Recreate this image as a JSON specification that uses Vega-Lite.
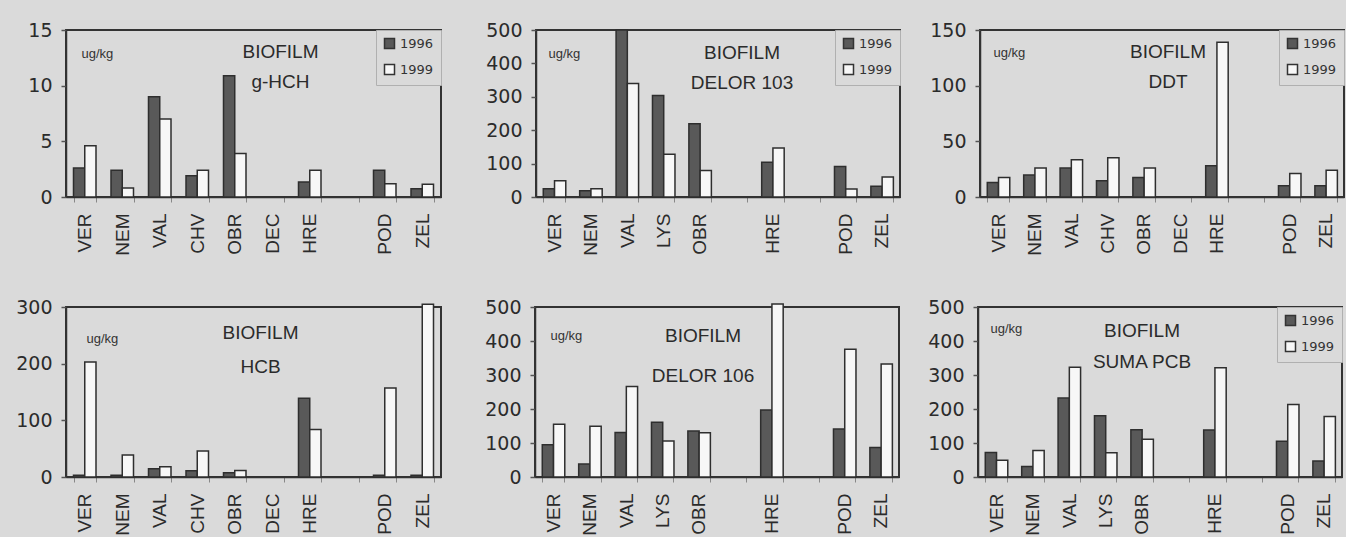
{
  "$schema": "https://vega.github.io/schema/vega-lite/v6.json",
  "padding": {"left": 14, "top": 20, "right": 0, "bottom": 0},
  "data": {"values": [
    {"p": "g-HCH", "site": "VER", "year": "1996", "v": 2.6},
    {"p": "g-HCH", "site": "VER", "year": "1999", "v": 4.6},
    {"p": "g-HCH", "site": "NEM", "year": "1996", "v": 2.4},
    {"p": "g-HCH", "site": "NEM", "year": "1999", "v": 0.8},
    {"p": "g-HCH", "site": "VAL", "year": "1996", "v": 9.0},
    {"p": "g-HCH", "site": "VAL", "year": "1999", "v": 7.0},
    {"p": "g-HCH", "site": "CHV", "year": "1996", "v": 1.9},
    {"p": "g-HCH", "site": "CHV", "year": "1999", "v": 2.4},
    {"p": "g-HCH", "site": "OBR", "year": "1996", "v": 10.9},
    {"p": "g-HCH", "site": "OBR", "year": "1999", "v": 3.9},
    {"p": "g-HCH", "site": "HRE", "year": "1996", "v": 1.35},
    {"p": "g-HCH", "site": "HRE", "year": "1999", "v": 2.4},
    {"p": "g-HCH", "site": "POD", "year": "1996", "v": 2.4},
    {"p": "g-HCH", "site": "POD", "year": "1999", "v": 1.2},
    {"p": "g-HCH", "site": "ZEL", "year": "1996", "v": 0.75},
    {"p": "g-HCH", "site": "ZEL", "year": "1999", "v": 1.15},
    {"p": "DELOR 103", "site": "VER", "year": "1996", "v": 25},
    {"p": "DELOR 103", "site": "VER", "year": "1999", "v": 49},
    {"p": "DELOR 103", "site": "NEM", "year": "1996", "v": 19},
    {"p": "DELOR 103", "site": "NEM", "year": "1999", "v": 25},
    {"p": "DELOR 103", "site": "VAL", "year": "1996", "v": 500},
    {"p": "DELOR 103", "site": "VAL", "year": "1999", "v": 340},
    {"p": "DELOR 103", "site": "LYS", "year": "1996", "v": 304},
    {"p": "DELOR 103", "site": "LYS", "year": "1999", "v": 128},
    {"p": "DELOR 103", "site": "OBR", "year": "1996", "v": 219},
    {"p": "DELOR 103", "site": "OBR", "year": "1999", "v": 79},
    {"p": "DELOR 103", "site": "HRE", "year": "1996", "v": 104},
    {"p": "DELOR 103", "site": "HRE", "year": "1999", "v": 147},
    {"p": "DELOR 103", "site": "POD", "year": "1996", "v": 91},
    {"p": "DELOR 103", "site": "POD", "year": "1999", "v": 24},
    {"p": "DELOR 103", "site": "ZEL", "year": "1996", "v": 32},
    {"p": "DELOR 103", "site": "ZEL", "year": "1999", "v": 60},
    {"p": "DDT", "site": "VER", "year": "1996", "v": 13},
    {"p": "DDT", "site": "VER", "year": "1999", "v": 17.6},
    {"p": "DDT", "site": "NEM", "year": "1996", "v": 19.7},
    {"p": "DDT", "site": "NEM", "year": "1999", "v": 26},
    {"p": "DDT", "site": "VAL", "year": "1996", "v": 26},
    {"p": "DDT", "site": "VAL", "year": "1999", "v": 33.4},
    {"p": "DDT", "site": "CHV", "year": "1996", "v": 14.6},
    {"p": "DDT", "site": "CHV", "year": "1999", "v": 35.2},
    {"p": "DDT", "site": "OBR", "year": "1996", "v": 17.6},
    {"p": "DDT", "site": "OBR", "year": "1999", "v": 26},
    {"p": "DDT", "site": "HRE", "year": "1996", "v": 28},
    {"p": "DDT", "site": "HRE", "year": "1999", "v": 139},
    {"p": "DDT", "site": "POD", "year": "1996", "v": 10},
    {"p": "DDT", "site": "POD", "year": "1999", "v": 21},
    {"p": "DDT", "site": "ZEL", "year": "1996", "v": 10},
    {"p": "DDT", "site": "ZEL", "year": "1999", "v": 24},
    {"p": "HCB", "site": "VER", "year": "1996", "v": 3},
    {"p": "HCB", "site": "VER", "year": "1999", "v": 203},
    {"p": "HCB", "site": "NEM", "year": "1996", "v": 3},
    {"p": "HCB", "site": "NEM", "year": "1999", "v": 39},
    {"p": "HCB", "site": "VAL", "year": "1996", "v": 14.5},
    {"p": "HCB", "site": "VAL", "year": "1999", "v": 18},
    {"p": "HCB", "site": "CHV", "year": "1996", "v": 11},
    {"p": "HCB", "site": "CHV", "year": "1999", "v": 46},
    {"p": "HCB", "site": "OBR", "year": "1996", "v": 7.5},
    {"p": "HCB", "site": "OBR", "year": "1999", "v": 11.6},
    {"p": "HCB", "site": "HRE", "year": "1996", "v": 139},
    {"p": "HCB", "site": "HRE", "year": "1999", "v": 84},
    {"p": "HCB", "site": "POD", "year": "1996", "v": 3},
    {"p": "HCB", "site": "POD", "year": "1999", "v": 157},
    {"p": "HCB", "site": "ZEL", "year": "1996", "v": 3},
    {"p": "HCB", "site": "ZEL", "year": "1999", "v": 305},
    {"p": "DELOR 106", "site": "VER", "year": "1996", "v": 95},
    {"p": "DELOR 106", "site": "VER", "year": "1999", "v": 155},
    {"p": "DELOR 106", "site": "NEM", "year": "1996", "v": 38},
    {"p": "DELOR 106", "site": "NEM", "year": "1999", "v": 149},
    {"p": "DELOR 106", "site": "VAL", "year": "1996", "v": 131},
    {"p": "DELOR 106", "site": "VAL", "year": "1999", "v": 266},
    {"p": "DELOR 106", "site": "LYS", "year": "1996", "v": 161},
    {"p": "DELOR 106", "site": "LYS", "year": "1999", "v": 106},
    {"p": "DELOR 106", "site": "OBR", "year": "1996", "v": 135},
    {"p": "DELOR 106", "site": "OBR", "year": "1999", "v": 130},
    {"p": "DELOR 106", "site": "HRE", "year": "1996", "v": 197},
    {"p": "DELOR 106", "site": "HRE", "year": "1999", "v": 509},
    {"p": "DELOR 106", "site": "POD", "year": "1996", "v": 141},
    {"p": "DELOR 106", "site": "POD", "year": "1999", "v": 376},
    {"p": "DELOR 106", "site": "ZEL", "year": "1996", "v": 87},
    {"p": "DELOR 106", "site": "ZEL", "year": "1999", "v": 332},
    {"p": "SUMA PCB", "site": "VER", "year": "1996", "v": 72},
    {"p": "SUMA PCB", "site": "VER", "year": "1999", "v": 49},
    {"p": "SUMA PCB", "site": "NEM", "year": "1996", "v": 31},
    {"p": "SUMA PCB", "site": "NEM", "year": "1999", "v": 78},
    {"p": "SUMA PCB", "site": "VAL", "year": "1996", "v": 232},
    {"p": "SUMA PCB", "site": "VAL", "year": "1999", "v": 323},
    {"p": "SUMA PCB", "site": "LYS", "year": "1996", "v": 180},
    {"p": "SUMA PCB", "site": "LYS", "year": "1999", "v": 71},
    {"p": "SUMA PCB", "site": "OBR", "year": "1996", "v": 139},
    {"p": "SUMA PCB", "site": "OBR", "year": "1999", "v": 111},
    {"p": "SUMA PCB", "site": "HRE", "year": "1996", "v": 138},
    {"p": "SUMA PCB", "site": "HRE", "year": "1999", "v": 321},
    {"p": "SUMA PCB", "site": "POD", "year": "1996", "v": 105},
    {"p": "SUMA PCB", "site": "POD", "year": "1999", "v": 213},
    {"p": "SUMA PCB", "site": "ZEL", "year": "1996", "v": 47},
    {"p": "SUMA PCB", "site": "ZEL", "year": "1999", "v": 178}
  ]},
  "spacing": 40,
  "resolve": {"scale": {"color": "independent"}, "legend": {"color": "independent"}},
  "vconcat": [
    {
      "spacing": 41,
      "resolve": {"scale": {"color": "independent"}, "legend": {"color": "independent"}},
      "hconcat": [
        {
          "width": 375, "height": 167,
          "transform": [{"filter": "datum.p == 'g-HCH'"}],
          "title": {"text": "BIOFILM", "subtitle": "g-HCH", "dx": 27, "dy": 75, "subtitlePadding": 11},
          "mark": "bar",
          "encoding": {
            "x": {"field": "site", "type": "nominal", "sort": null, "scale": {"domain": ["VER", "NEM", "VAL", "CHV", "OBR", "DEC", "HRE", " ", "POD", "ZEL"], "paddingInner": 0.4, "paddingOuter": 0.2}, "axis": {"title": null}},
            "xOffset": {"field": "year", "type": "nominal", "scale": {"paddingInner": 0, "paddingOuter": 0}},
            "y": {"field": "v", "type": "quantitative", "scale": {"domain": [0, 15], "nice": false}, "axis": {"values": [0, 5, 10, 15], "title": "ug/kg", "titleX": 15, "titleY": 27}},
            "color": {"field": "year", "type": "nominal", "scale": {"domain": ["1996", "1999"], "range": ["#595959", "#f7f7f7"]}, "legend": {"title": null}}
          }
        },
        {
          "spacing": 26,
          "resolve": {"scale": {"color": "independent"}, "legend": {"color": "independent"}},
          "hconcat": [
            {
              "width": 364, "height": 167,
              "transform": [{"filter": "datum.p == 'DELOR 103'"}],
              "title": {"text": "BIOFILM", "subtitle": "DELOR 103", "dx": 24, "dy": 76, "subtitlePadding": 11},
              "mark": "bar",
              "encoding": {
                "x": {"field": "site", "type": "nominal", "sort": null, "scale": {"domain": ["VER", "NEM", "VAL", "LYS", "OBR", " ", "HRE", "  ", "POD", "ZEL"], "paddingInner": 0.4, "paddingOuter": 0.2}, "axis": {"title": null}},
                "xOffset": {"field": "year", "type": "nominal", "scale": {"paddingInner": 0, "paddingOuter": 0}},
                "y": {"field": "v", "type": "quantitative", "scale": {"domain": [0, 500], "nice": false}, "axis": {"values": [0, 100, 200, 300, 400, 500], "title": "ug/kg", "titleX": 12, "titleY": 27}},
                "color": {"field": "year", "type": "nominal", "scale": {"domain": ["1996", "1999"], "range": ["#595959", "#f7f7f7"]}, "legend": {"title": null}}
              }
            },
            {
              "width": 364, "height": 167,
              "transform": [{"filter": "datum.p == 'DDT'"}],
              "title": {"text": "BIOFILM", "subtitle": "DDT", "dx": 6, "dy": 74.5, "subtitlePadding": 11},
              "mark": "bar",
              "encoding": {
                "x": {"field": "site", "type": "nominal", "sort": null, "scale": {"domain": ["VER", "NEM", "VAL", "CHV", "OBR", "DEC", "HRE", " ", "POD", "ZEL"], "paddingInner": 0.4, "paddingOuter": 0.2}, "axis": {"title": null}},
                "xOffset": {"field": "year", "type": "nominal", "scale": {"paddingInner": 0, "paddingOuter": 0}},
                "y": {"field": "v", "type": "quantitative", "scale": {"domain": [0, 150], "nice": false}, "axis": {"values": [0, 50, 100, 150], "title": "ug/kg", "titleX": 13, "titleY": 26}},
                "color": {"field": "year", "type": "nominal", "scale": {"domain": ["1996", "1999"], "range": ["#595959", "#f7f7f7"]}, "legend": {"title": null}}
              }
            }
          ]
        }
      ]
    },
    {
      "spacing": 41,
      "resolve": {"scale": {"color": "independent"}, "legend": {"color": "independent"}},
      "hconcat": [
        {
          "width": 375, "height": 170,
          "transform": [{"filter": "datum.p == 'HCB'"}],
          "title": {"text": "BIOFILM", "subtitle": "HCB", "dx": 7, "dy": 83, "subtitlePadding": 15},
          "mark": "bar",
          "encoding": {
            "x": {"field": "site", "type": "nominal", "sort": null, "scale": {"domain": ["VER", "NEM", "VAL", "CHV", "OBR", "DEC", "HRE", " ", "POD", "ZEL"], "paddingInner": 0.4, "paddingOuter": 0.2}, "axis": {"title": null}},
            "xOffset": {"field": "year", "type": "nominal", "scale": {"paddingInner": 0, "paddingOuter": 0}},
            "y": {"field": "v", "type": "quantitative", "scale": {"domain": [0, 300], "nice": false}, "axis": {"values": [0, 100, 200, 300], "title": "ug/kg", "titleX": 20, "titleY": 35}},
            "color": {"field": "year", "type": "nominal", "scale": {"domain": ["1996", "1999"], "range": ["#595959", "#f7f7f7"]}, "legend": null}
          }
        },
        {
          "spacing": 26,
          "resolve": {"scale": {"color": "independent"}, "legend": {"color": "independent"}},
          "hconcat": [
            {
              "width": 364, "height": 170,
              "transform": [{"filter": "datum.p == 'DELOR 106'"}],
              "title": {"text": "BIOFILM", "subtitle": "DELOR 106", "dx": -14, "dy": 92, "subtitlePadding": 21},
              "mark": "bar",
              "encoding": {
                "x": {"field": "site", "type": "nominal", "sort": null, "scale": {"domain": ["VER", "NEM", "VAL", "LYS", "OBR", " ", "HRE", "  ", "POD", "ZEL"], "paddingInner": 0.4, "paddingOuter": 0.2}, "axis": {"title": null}},
                "xOffset": {"field": "year", "type": "nominal", "scale": {"paddingInner": 0, "paddingOuter": 0}},
                "y": {"field": "v", "type": "quantitative", "scale": {"domain": [0, 500], "nice": false}, "axis": {"values": [0, 100, 200, 300, 400, 500], "title": "ug/kg", "titleX": 15, "titleY": 32}},
                "color": {"field": "year", "type": "nominal", "scale": {"domain": ["1996", "1999"], "range": ["#595959", "#f7f7f7"]}, "legend": null}
              }
            },
            {
              "width": 364, "height": 170,
              "transform": [{"filter": "datum.p == 'SUMA PCB'"}],
              "title": {"text": "BIOFILM", "subtitle": "SUMA PCB", "dx": -18, "dy": 78, "subtitlePadding": 12},
              "mark": "bar",
              "encoding": {
                "x": {"field": "site", "type": "nominal", "sort": null, "scale": {"domain": ["VER", "NEM", "VAL", "LYS", "OBR", " ", "HRE", "  ", "POD", "ZEL"], "paddingInner": 0.4, "paddingOuter": 0.2}, "axis": {"title": null}},
                "xOffset": {"field": "year", "type": "nominal", "scale": {"paddingInner": 0, "paddingOuter": 0}},
                "y": {"field": "v", "type": "quantitative", "scale": {"domain": [0, 500], "nice": false}, "axis": {"values": [0, 100, 200, 300, 400, 500], "title": "ug/kg", "titleX": 12, "titleY": 25}},
                "color": {"field": "year", "type": "nominal", "scale": {"domain": ["1996", "1999"], "range": ["#595959", "#f7f7f7"]}, "legend": {"title": null}}
              }
            }
          ]
        }
      ]
    }
  ],
  "config": {
    "background": "#dadada",
    "font": "Liberation Sans",
    "view": {"stroke": "#333333", "strokeWidth": 2},
    "bar": {"stroke": "#2e2e2e", "strokeWidth": 1.5},
    "axis": {"grid": false, "domainColor": "#333333", "domainWidth": 1.5, "labelColor": "#2b2b2b", "tickColor": "#555555", "titleColor": "#333333"},
    "axisX": {"labelAngle": -90, "labelFont": "Liberation Sans", "labelFontSize": 19, "tickBand": "extent", "tickSize": 5, "tickWidth": 1, "tickColor": "#888888", "labelPadding": 11},
    "axisY": {"labelFont": "DejaVu Sans", "labelFontSize": 19, "tickSize": 5, "tickWidth": 1.5, "labelPadding": 9, "titleAngle": 0, "titleAlign": "left", "titleBaseline": "alphabetic", "titleFont": "Liberation Sans", "titleFontSize": 13, "titleFontWeight": "normal"},
    "legend": {"orient": "top-right", "offset": 0, "fillColor": "#dadada", "strokeColor": "#b0b0b0", "strokeWidth": 1, "padding": 7, "rowPadding": 9, "symbolType": "square", "symbolSize": 100, "symbolStrokeColor": "#333333", "symbolStrokeWidth": 1.5, "labelFont": "DejaVu Sans", "labelFontSize": 13, "labelColor": "#333333", "labelOffset": 4},
    "title": {"font": "Liberation Sans", "fontSize": 19, "fontWeight": "normal", "color": "#2b2b2b", "subtitleFont": "Liberation Sans", "subtitleFontSize": 19, "subtitleColor": "#2b2b2b", "anchor": "middle", "frame": "group", "offset": 0}
  }
}
